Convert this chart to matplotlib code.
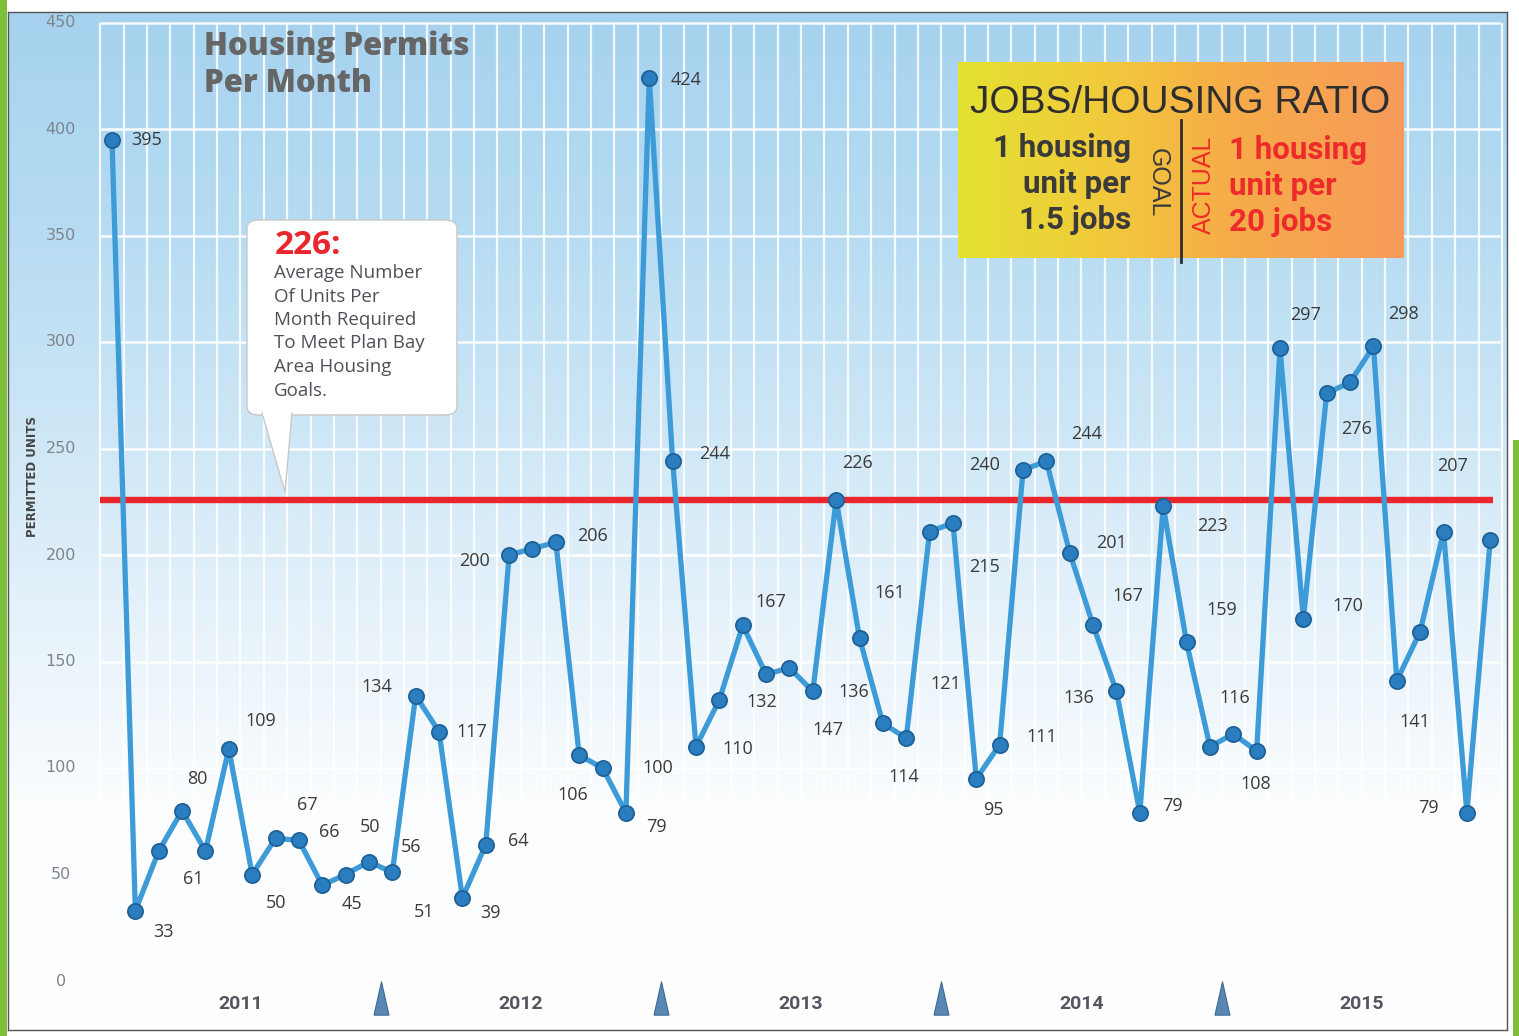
import numpy as np
import matplotlib
matplotlib.use("Agg")
import matplotlib.pyplot as plt
from matplotlib.patches import FancyBboxPatch, Polygon, Rectangle
from matplotlib.colors import LinearSegmentedColormap

# ---------------- data ----------------
permits = [395, 33, 61, 80, 61, 109, 50, 67, 66, 45, 50, 56, 51, 134, 117, 39, 64,
           200, 203, 206, 106, 100, 79, 424, 244, 110, 132, 167, 144, 147, 136, 226,
           161, 121, 114, 211, 215, 95, 111, 240, 244, 201, 167, 136, 79, 223, 159,
           110, 116, 108, 297, 170, 276, 281, 298, 141, 164, 211, 79, 207]
months = list(range(len(permits)))          # Jan 2011 ... Dec 2015
target = 226
years = ["2011", "2012", "2013", "2014", "2015"]
yticks = [0, 50, 100, 150, 200, 250, 300, 350, 400, 450]

# which points carry a data label, with label offset in pixels (dx, dy; dy up)
label_offsets = {
    0: (35, 0), 1: (28, -21), 2: (35, -28), 3: (15, 32), 5: (32, 28), 6: (24, -29),
    7: (32, 33), 8: (30, 8), 9: (30, -19), 10: (24, 47), 11: (42, 15), 12: (32, -40),
    13: (-39, 9), 14: (33, 0), 15: (28, -15), 16: (33, 4), 17: (-35, -6), 19: (37, 6),
    20: (-6, -40), 21: (55, 0), 22: (31, -14), 23: (37, -2), 24: (42, 7), 25: (42, -2),
    26: (42, -2), 27: (28, 23), 29: (38, -62), 30: (41, -1), 31: (21, 37), 32: (30, 45),
    33: (63, 39), 34: (-2, -39), 36: (32, -44), 37: (17, -31), 38: (42, 8), 39: (-38, 5),
    40: (40, 27), 41: (42, 10), 42: (35, 29), 43: (-38, -7), 44: (33, 7), 45: (49, -20),
    46: (35, 32), 48: (2, 36), 49: (-1, -33), 50: (26, 33), 51: (44, 13), 52: (30, -36),
    54: (30, 32), 55: (18, -41), 58: (-38, 5), 59: (-38, 74),
}

# ---------------- figure ----------------
W, H = 1519, 1036
fig = plt.figure(figsize=(W / 100, H / 100), dpi=100)
fig.patch.set_facecolor("white")


def fx(x):
    return x / W


def fy(y):
    return 1 - y / H


# green page edges
fig.patches.append(Rectangle((0, 0), fx(7), 1, transform=fig.transFigure,
                             facecolor="#7cbf3a", edgecolor="none", zorder=0))
fig.patches.append(Rectangle((fx(1513), 0), fx(6), fy(440), transform=fig.transFigure,
                             facecolor="#7cbf3a", edgecolor="none", zorder=0))

L, T, R, B = 8, 12, 1507, 1030
ax = fig.add_axes([fx(L), fy(B), fx(R - L), (B - T) / H])

px_per_month = 23.36
px_per_unit = 2.13
x0_px, y0_px = 112, 981
ax.set_xlim((L - x0_px) / px_per_month, (R - x0_px) / px_per_month)
ax.set_ylim((y0_px - B) / px_per_unit, (y0_px - T) / px_per_unit)

# background gradient
cmap = LinearSegmentedColormap.from_list(
    "bg", [(0.0, "#ffffff"), (0.22, "#fbfdfe"), (0.42, "#e4f1fa"),
           (0.6, "#cce6f6"), (0.8, "#b5dbf2"), (1.0, "#a6d2ef")])
grad = np.linspace(0, 1, 256).reshape(-1, 1)
ax.imshow(grad, extent=[0, 1, 0, 1], transform=ax.transAxes, aspect="auto",
          cmap=cmap, origin="lower", zorder=0)

# grid
xmin_grid = -0.5
grid_x = np.arange(-0.5, len(permits), 1.0)
ax.vlines(grid_x, 0, yticks[-1], colors="white", lw=1.6, alpha=0.85, zorder=1)
ax.hlines(yticks[1:], xmin_grid, ax.get_xlim()[1] - 0.3, colors="white", lw=1.8,
          alpha=0.9, zorder=1)

for s in ax.spines.values():
    s.set_color("#555555")
    s.set_linewidth(1.0)
ax.set_xticks([])
ax.set_yticks([])

# y tick labels (inside the frame)
for v in yticks:
    ax.text(-2.2, v, str(v), ha="center", va="center", fontsize=11.5,
            color="#7f848c", family="DejaVu Sans", zorder=3)
ax.text(-3.4, 237, "PERMITTED UNITS", rotation=90, ha="center", va="center",
        fontsize=8.5, fontweight="bold", color="#444444", zorder=3)

# target line
ax.hlines(target, -0.5, len(permits) - 0.9, colors="#e8262b", lw=4.6, zorder=4)

# data line
ax.plot(months, permits, color="#3d9bd8", lw=3.8, zorder=5, solid_joinstyle="round")
ax.plot(months, permits, ls="none", marker="o", ms=11, mfc="#2a7dbf",
        mec="#1d5f94", mew=1.2, zorder=6)

for i, (dx, dy) in label_offsets.items():
    ax.annotate(str(permits[i]), (months[i], permits[i]), xytext=(dx, dy),
                textcoords="offset pixels", ha="center", va="center",
                fontsize=13, color="#3a3a3a", family="Open Sans", zorder=7)

# year labels and separators
for k, yr in enumerate(years):
    ax.text(5.5 + 12 * k, -11, yr, ha="center", va="center", fontsize=14,
            fontweight="bold", color="#555560", family="Roboto", zorder=3)
tri = [(-0.45, -1.0), (0.45, -1.0), (0.0, 1.0), (-0.45, -1.0)]
sep_x = [11.5 + 12 * k for k in range(len(years) - 1)]
ax.plot(sep_x, [-8] * len(sep_x), ls="none", marker=tri, ms=24, mfc="#5a86b4",
        mec="#3d6a98", mew=0.8, zorder=3)

# title
fig.text(fx(204), fy(47), "Housing Permits", fontsize=22.5, fontweight="heavy",
         color="#666666", va="center", ha="left", family="Open Sans")
fig.text(fx(204), fy(84), "Per Month", fontsize=22.5, fontweight="heavy",
         color="#666666", va="center", ha="left", family="Open Sans")

# callout box
bx0, by0, bx1, by1 = 247, 220, 457, 415
box = FancyBboxPatch((fx(bx0), fy(by1)), fx(bx1 - bx0), (by1 - by0) / H,
                     boxstyle="round,pad=0,rounding_size=0.008",
                     transform=fig.transFigure, facecolor="white",
                     edgecolor="#c8c8c8", lw=1.0, zorder=8)
fig.patches.append(box)
tail = Polygon([(fx(262), fy(413)), (fx(285), fy(492)), (fx(292), fy(413))],
               closed=True, transform=fig.transFigure, facecolor="white",
               edgecolor="#c8c8c8", lw=1.0, zorder=8)
fig.patches.append(tail)
fig.patches.append(Rectangle((fx(263), fy(416)), fx(28), 5 / H, transform=fig.transFigure,
                             facecolor="white", edgecolor="none", zorder=8))
fig.text(fx(275), fy(245), "226:", fontsize=24, fontweight="bold", color="#e8262b",
         ha="left", va="center", family="Open Sans", zorder=9)
callout_lines = ["Average Number", "Of Units Per", "Month Required",
                 "To Meet Plan Bay", "Area Housing", "Goals."]
for j, line in enumerate(callout_lines):
    fig.text(fx(274), fy(273 + 23.5 * j), line, fontsize=13.5, color="#50505a",
             ha="left", va="center", family="Open Sans", zorder=9)

# jobs/housing box
jx0, jy0, jx1, jy1 = 958, 62, 1403, 258
jax = fig.add_axes([fx(jx0), fy(jy1), fx(jx1 - jx0), (jy1 - jy0) / H])
jcmap = LinearSegmentedColormap.from_list(
    "jb", [(0.0, "#e3e232"), (0.35, "#f2c83c"), (0.6, "#f6ad48"), (1.0, "#f79a5a")])
jax.imshow(np.linspace(0, 1, 256).reshape(1, -1), extent=[0, 1, 0, 1],
           aspect="auto", cmap=jcmap, zorder=0)
jax.set_xlim(0, 1)
jax.set_ylim(0, 1)
jax.axis("off")


def jxy(x, y):
    return ((x - jx0) / (jx1 - jx0), (jy1 - y) / (jy1 - jy0))


jax.text(*jxy(1180, 103), "JOBS/HOUSING RATIO", ha="center", va="center",
         fontsize=28, color="#2e2e2e", family="Liberation Sans")
for j, line in enumerate(["1 housing", "unit per", "1.5 jobs"]):
    jax.text(*jxy(1131, 148 + 36 * j), line, ha="right", va="center",
             fontsize=22.5, fontweight="bold", color="#3a3a3a", family="Roboto")
for j, line in enumerate(["1 housing", "unit per", "20 jobs"]):
    jax.text(*jxy(1229, 150 + 36 * j), line, ha="left", va="center",
             fontsize=22.5, fontweight="bold", color="#ee2a2a", family="Roboto")
jax.text(*jxy(1158, 183), "GOAL", rotation=-90, ha="center", va="center",
         fontsize=18, color="#3a3a3a", family="Liberation Sans")
jax.text(*jxy(1204, 185), "ACTUAL", rotation=90, ha="center", va="center",
         fontsize=18, color="#ee2a2a", family="Liberation Sans")
jax.plot([jxy(1181, 120)[0]] * 2, [jxy(1181, 120)[1], jxy(1181, 262)[1]],
         color="#2e2e2e", lw=2, clip_on=False)

fig.savefig("out.png", dpi=100)
